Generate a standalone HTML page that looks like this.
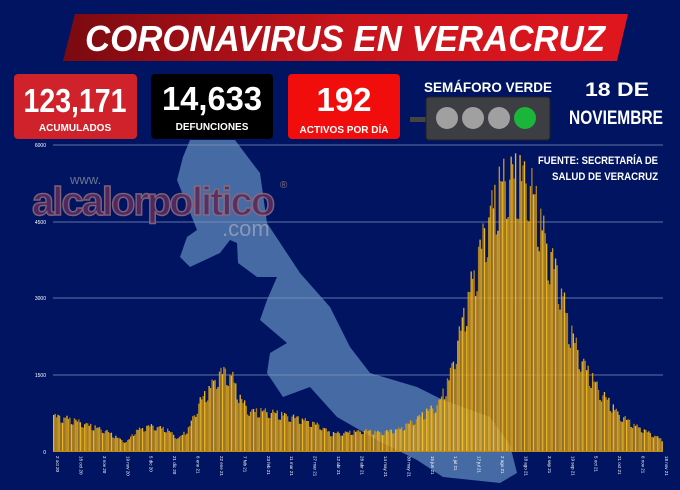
<!DOCTYPE html>
<html><head><meta charset="utf-8"><style>
html,body{margin:0;padding:0;background:#001462;}
body{width:680px;height:490px;overflow:hidden;position:relative;font-family:"Liberation Sans",sans-serif;}
.f{font-family:"Liberation Sans",sans-serif;font-weight:bold;}
</style></head><body>
<svg width="680" height="490" xmlns="http://www.w3.org/2000/svg" style="position:absolute;left:0;top:0">
<defs>
<linearGradient id="rg" x1="0" x2="1"><stop offset="0" stop-color="#7a0a10"/><stop offset="0.5" stop-color="#c8141c"/><stop offset="1" stop-color="#e0161e"/></linearGradient>
</defs>
<rect width="680" height="490" fill="#001462"/>
<!-- map -->
<path fill="#4f76ad" fill-opacity="0.88" d="M190,140 L235,140 L250,160 L260,173 L267,223 L300,273 L330,307 L350,347 L370,373 L417,387 L443,400 L490,417 L510,445 L517,473 L500,483 L443,477 L417,460 L377,440 L337,417 L310,387 L283,397 L267,373 L270,353 L287,343 L260,320 L267,300 L277,277 L257,277 L238,263 L237,243 L230,240 L220,253 L190,267 L180,257 L187,237 L197,230 L177,180 L183,157 Z"/>
<!-- gridlines -->
<g stroke="#8a9ac0" stroke-width="1" opacity="0.7">
<line x1="53" x2="663" y1="145" y2="145"/><line x1="53" x2="663" y1="222" y2="222"/><line x1="53" x2="663" y1="298" y2="298"/><line x1="53" x2="663" y1="375" y2="375"/>
</g>
<g fill="#fff" font-size="5" font-family="Liberation Sans,sans-serif" text-anchor="end">
<text x="46" y="147">6000</text><text x="46" y="224">4500</text><text x="46" y="300">3000</text><text x="46" y="377">1500</text><text x="46" y="454">0</text>
</g>
<!-- logo -->
<text x="70" y="184" font-size="13" fill="#6a7590" font-family="Liberation Sans,sans-serif">www.</text>
<text x="32" y="215" font-size="40" fill="#5a2a60" stroke="#8a6a7a" stroke-width="1.5" font-family="Liberation Sans,sans-serif" font-weight="bold" letter-spacing="-2" opacity="0.9">alcalorpolitico</text>
<text x="222" y="236" font-size="22" fill="#8a98b8" font-family="Liberation Sans,sans-serif">.com</text>
<text x="280" y="188" font-size="10" fill="#8a7080" font-family="Liberation Sans,sans-serif">®</text>
<!-- bars -->
<g id="bars"></g>
<line x1="53" x2="663" y1="451.5" y2="451.5" stroke="#c08a10" stroke-width="1"/>
<g id="xl" fill="#fff" font-size="4.5" font-family="Liberation Sans,sans-serif"></g>
<!-- source -->
<text x="658" y="164" class="f" font-size="11" fill="#fff" text-anchor="end" textLength="120" lengthAdjust="spacingAndGlyphs">FUENTE: SECRETARÍA DE</text>
<text x="658" y="180" class="f" font-size="11" fill="#fff" text-anchor="end" textLength="106" lengthAdjust="spacingAndGlyphs">SALUD DE VERACRUZ</text>
<!-- banner -->
<polygon points="75,14 628,14 617,61 63,61" fill="url(#rg)"/>
<text x="345" y="51" class="f" font-size="36" fill="#fff" text-anchor="middle" font-style="italic" textLength="520" lengthAdjust="spacingAndGlyphs">CORONAVIRUS EN VERACRUZ</text>
<!-- boxes -->
<rect x="14" y="74" width="123" height="65" rx="4" fill="#d0222a"/>
<text x="75" y="112" class="f" font-size="33" fill="#fff" text-anchor="middle" textLength="103" lengthAdjust="spacingAndGlyphs">123,171</text>
<text x="75" y="131" class="f" font-size="10" fill="#fff" text-anchor="middle">ACUMULADOS</text>
<rect x="151" y="74" width="122" height="65" rx="4" fill="#000"/>
<text x="212" y="110" class="f" font-size="33" fill="#fff" text-anchor="middle" textLength="100" lengthAdjust="spacingAndGlyphs">14,633</text>
<text x="212" y="130" class="f" font-size="10" fill="#fff" text-anchor="middle">DEFUNCIONES</text>
<rect x="288" y="74" width="112" height="65" rx="4" fill="#f20d0d"/>
<text x="344" y="111" class="f" font-size="33" fill="#fff" text-anchor="middle">192</text>
<text x="344" y="133" class="f" font-size="10" fill="#fff" text-anchor="middle">ACTIVOS POR DÍA</text>
<text x="488" y="92" class="f" font-size="14" fill="#fff" text-anchor="middle" textLength="128" lengthAdjust="spacingAndGlyphs">SEMÁFORO VERDE</text>
<rect x="410" y="117" width="140" height="5" fill="#444"/>
<rect x="426" y="97" width="124" height="43" rx="3" fill="#3c3e44" stroke="#222" stroke-width="1"/>
<circle cx="447" cy="118" r="11" fill="#a0a0a0"/><circle cx="473" cy="118" r="11" fill="#a0a0a0"/><circle cx="499" cy="118" r="11" fill="#a0a0a0"/><circle cx="525" cy="118" r="11" fill="#1bb53a"/>
<text x="617" y="96" class="f" font-size="19" fill="#fff" text-anchor="middle" textLength="64" lengthAdjust="spacingAndGlyphs">18 DE</text>
<text x="616" y="124" class="f" font-size="19" fill="#fff" text-anchor="middle" textLength="94" lengthAdjust="spacingAndGlyphs">NOVIEMBRE</text>
</svg>
<script>
var env=[[53,415],[70,418],[90,425],[105,430],[118,438],[126,442],[135,430],[150,425],[165,428],[178,438],[188,428],[198,402],[208,388],[218,372],[224,369],[232,375],[240,398],[250,410],[265,410],[280,413],[300,418],[320,425],[330,433],[345,432],[365,430],[380,432],[400,428],[420,415],[438,402],[448,378],[458,335],[468,290],[478,250],[488,210],[498,180],[508,165],[518,168],[528,170],[538,205],[548,245],[558,272],[568,320],[578,350],[588,370],[598,387],[608,400],[618,413],[635,425],[650,433],[663,440]];
function f(x){for(var i=1;i<env.length;i++){if(x<=env[i][0]){var a=env[i-1],b=env[i];return a[1]+(b[1]-a[1])*(x-a[0])/(b[0]-a[0]);}}return 440;}
var g=document.getElementById('bars'),s='',n=412,w=610/n;
for(var i=0;i<n;i++){var x=53+i*w;var y=f(x);var d=(451-y);var r=(i%7==5||i%7==6)?0.82:(1+0.05*Math.sin(i*2.3));y=451-d*r;
var c=(i%3==0)?'#ffc41c':(i%3==1?'#e0a010':'#b88a20');
s+='<rect x="'+x.toFixed(2)+'" y="'+y.toFixed(1)+'" width="'+(w*0.9).toFixed(2)+'" height="'+(451-y).toFixed(1)+'" fill="'+c+'" opacity="0.92"/>';}
g.innerHTML=s;
var L=['2 oct 20','18 oct 20','3 nov 20','19 nov 20','5 dic 20','21 dic 20','6 ene 21','22 ene 21','7 feb 21','23 feb 21','11 mar 21','27 mar 21','12 abr 21','28 abr 21','14 may 21','30 may 21','15 jun 21','1 jul 21','17 jul 21','2 ago 21','18 ago 21','3 sep 21','19 sep 21','5 oct 21','21 oct 21','6 nov 21','18 nov 21'];
var t='';for(var k=0;k<L.length;k++){var x=54+k*(609/(L.length-1))+2;t+='<text transform="translate('+x.toFixed(1)+',456) rotate(90)">'+L[k]+'</text>';}
document.getElementById('xl').innerHTML=t;
</script>
</body></html>
